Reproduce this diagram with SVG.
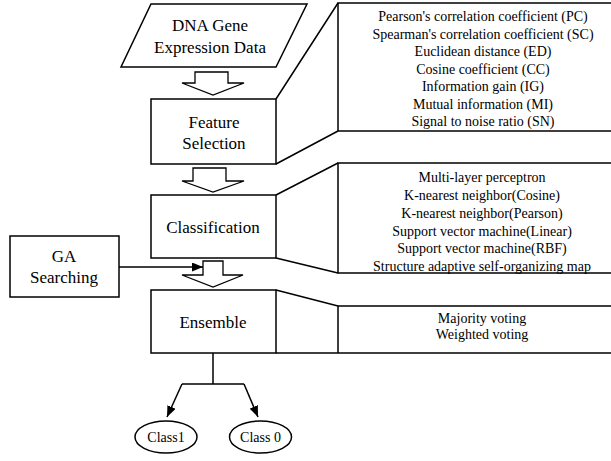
<svg xmlns="http://www.w3.org/2000/svg" width="611" height="461" viewBox="0 0 611 461">
<style>
.s{fill:#fff;stroke:#000;stroke-width:1.5}
.l{fill:none;stroke:#000;stroke-width:1.5}
.h{fill:#fff;stroke:#000;stroke-width:1.3;stroke-linejoin:miter}
.t{font-family:"Liberation Serif","Times New Roman",serif;font-size:17px;fill:#000;text-anchor:middle}
.m{font-family:"Liberation Serif","Times New Roman",serif;font-size:14px;fill:#000;text-anchor:middle}
.c{font-family:"Liberation Serif","Times New Roman",serif;font-size:14px;fill:#000;text-anchor:middle}
</style>
<defs>
<marker id="ah" markerWidth="11" markerHeight="9" refX="11" refY="4.5" orient="auto" markerUnits="userSpaceOnUse">
<path d="M0,0 L11,4.5 L0,9 Z" fill="#000"/>
</marker>
</defs>
<rect width="611" height="461" fill="#fff"/>
<g id="connectors">
<path class="h" d="M195,72 L228,72 L228,83 L244,83 L213,95 L182,83 L195,83 Z"/>
<path class="h" d="M193,168 L226,168 L226,181 L244,181 L213,192 L182,181 L193,181 Z"/>
<path class="h" d="M203,261 L223,261 L223,275 L243,275 L213,287 L182,275 L203,275 Z"/>
<line class="l" x1="119" y1="267" x2="203" y2="267" marker-end="url(#ah)"/>
<path class="l" d="M213,353 V384 M182,384 H244"/>
<line class="l" x1="182" y1="384" x2="167" y2="417" marker-end="url(#ah)"/>
<line class="l" x1="244" y1="384" x2="258" y2="417" marker-end="url(#ah)"/>
<path class="l" d="M276,99 L338,3 M276,164 L338,131 M276,195 L338,163 M276,258 L338,273 M276,290 L338,306"/>
</g>
<g id="dna">
<path class="s" d="M151,4 L307,4 L276,67 L121,67 Z"/>
<text class="t" x="210" y="31">DNA Gene</text>
<text class="t" x="210" y="53">Expression Data</text>
</g>
<g id="feature-selection">
<rect class="s" x="151" y="99" width="125" height="65"/>
<text class="t" x="214" y="128">Feature</text>
<text class="t" x="214" y="149">Selection</text>
</g>
<g id="feature-methods">
<path class="l" d="M611,3 H338 V131 H611"/>
<text class="m" x="483" y="21">Pearson's correlation coefficient (PC)</text>
<text class="m" x="483" y="38.5">Spearman's correlation coefficient (SC)</text>
<text class="m" x="483" y="56">Euclidean distance (ED)</text>
<text class="m" x="483" y="73.5">Cosine coefficient (CC)</text>
<text class="m" x="483" y="91">Information gain (IG)</text>
<text class="m" x="483" y="108.5">Mutual information (MI)</text>
<text class="m" x="483" y="126">Signal to noise ratio (SN)</text>
</g>
<g id="classification">
<rect class="s" x="151" y="195" width="125" height="63"/>
<text class="t" x="213" y="233">Classification</text>
</g>
<g id="classifiers">
<path class="l" d="M611,163 H338 V273 H611"/>
<text class="m" x="482" y="182">Multi-layer perceptron</text>
<text class="m" x="482" y="200">K-nearest neighbor(Cosine)</text>
<text class="m" x="482" y="218">K-nearest neighbor(Pearson)</text>
<text class="m" x="482" y="236">Support vector machine(Linear)</text>
<text class="m" x="482" y="253">Support vector machine(RBF)</text>
<text class="m" x="482" y="271">Structure adaptive self-organizing map</text>
</g>
<g id="ga">
<rect class="s" x="10" y="236" width="109" height="61"/>
<text class="t" x="64" y="262">GA</text>
<text class="t" x="64" y="283">Searching</text>
</g>
<g id="ensemble">
<rect class="s" x="151" y="290" width="125" height="63"/>
<text class="t" x="213" y="328">Ensemble</text>
</g>
<g id="ensemble-methods">
<path class="l" d="M611,306 H338 V353 H276 M338,353 H611"/>
<text class="m" x="482" y="323">Majority voting</text>
<text class="m" x="482" y="339">Weighted voting</text>
</g>
<g id="class1">
<ellipse class="s" cx="166" cy="437" rx="31" ry="16"/>
<text class="c" x="166" y="442">Class1</text>
</g>
<g id="class0">
<ellipse class="s" cx="260.5" cy="437" rx="31" ry="16"/>
<text class="c" x="260.5" y="442">Class 0</text>
</g>
</svg>
